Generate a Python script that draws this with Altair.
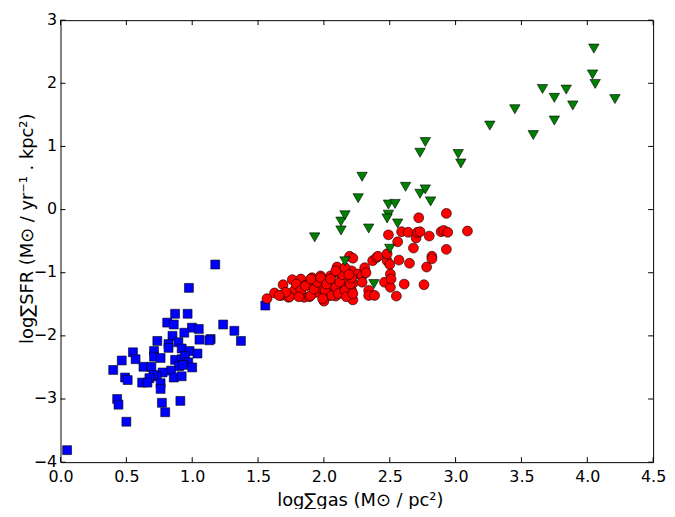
import altair as alt
import pandas as pd

blue_x = [0.05, 1.175, 0.975, 1.555, 0.87, 0.965, 0.81, 0.86, 1.235, 0.998, 1.05, 1.32, 1.37, 0.94,
          0.85, 0.735, 1.055, 1.14, 1.13, 0.82, 0.895, 0.82, 0.92, 0.71, 0.98, 1.04, 0.55, 0.57, 0.71,
          0.76, 0.465, 0.87, 0.92, 0.945, 0.97, 0.90, 0.93, 0.40, 0.63, 0.69, 1.0, 0.84, 0.775, 0.73,
          0.705, 0.49, 0.51, 0.675, 0.62, 0.66, 0.76, 0.86, 0.92, 0.76, 0.43, 0.44, 0.91, 0.77, 0.795, 0.50]
blue_y = [-3.81, -0.87, -1.24, -1.52, -1.65, -1.65, -1.79, -1.82, -1.82, -1.87, -1.89, -1.92, -2.08, -1.95,
          -2.0, -2.08, -2.06, -2.05, -2.07, -2.13, -2.10, -2.19, -2.20, -2.24, -2.24, -2.28, -2.26, -2.37, -2.33,
          -2.35, -2.39, -2.38, -2.37, -2.32, -2.42, -2.48, -2.46, -2.54, -2.49, -2.49, -2.50, -2.55, -2.58, -2.64,
          -2.62, -2.66, -2.70, -2.67, -2.74, -2.74, -2.75, -2.66, -2.64, -2.84, -3.0, -3.09, -3.03, -3.06, -3.21, -3.36]

red_x = [1.568, 1.625, 1.69, 1.675, 1.73, 1.76, 1.775, 1.81, 1.825, 1.86, 1.85, 1.89, 1.91, 1.925, 1.94,
         1.96, 1.975, 1.99, 2.01, 2.025, 2.04, 2.05, 2.05, 2.07, 2.0, 2.09, 2.10, 2.11, 2.14, 2.14, 2.15,
         2.16, 2.175, 2.195, 2.21, 2.21, 2.22, 2.22, 2.21, 2.22, 2.26, 2.29, 2.29, 2.31, 2.32, 2.34, 2.34,
         2.37, 2.40, 2.41, 2.385, 2.46, 2.48, 2.48, 2.49, 2.50, 2.505, 2.505, 2.51, 2.55, 2.56, 2.57, 2.59,
         2.61, 2.64, 2.65, 2.68, 2.70, 2.71, 2.72, 2.73, 2.76, 2.78, 2.80, 2.82, 2.82, 2.89, 2.91, 2.93,
         2.93, 2.94, 3.09,
         1.74, 1.79, 1.825, 1.86, 1.90, 1.925, 1.95, 1.975, 2.01, 2.02, 2.05, 2.06, 2.09, 2.11, 2.12,
         2.14, 2.16, 2.17, 2.20, 2.21, 2.22, 2.09, 2.16, 2.19, 1.71, 1.66, 1.90, 1.81, 1.99]
red_y = [-1.41, -1.32, -1.19, -1.36, -1.39, -1.11, -1.28, -1.20, -1.10, -1.20, -1.39, -1.38, -1.08, -1.22, -1.31,
         -1.13, -1.05, -1.26, -1.33, -1.23, -1.36, -1.05, -1.15, -1.28, -1.45, -1.37, -0.91, -1.0, -1.10, -1.22, -1.33,
         -0.95, -1.14, -0.74, -0.97, -1.37, -0.77, -1.17, -1.28, -1.43, -1.02, -1.05, -1.15, -0.92, -1.0, -1.28, -1.36,
         -0.81, -0.76, -0.74, -1.36, -1.15, -0.81, -0.70, -0.40, -0.87, -1.02, -1.23, -1.10, -1.37, -0.51, -0.80, -0.35,
         -1.18, -0.36, -0.85, -0.61, -0.45, -0.36, -0.13, -0.35, -1.19, -0.91, -0.42, -0.74, -0.78, -0.35, -0.33, -0.63,
         -0.06, -0.36, -0.34,
         -1.38, -1.18, -1.28, -1.21, -1.36, -1.26, -1.15, -1.08, -1.28, -1.18, -1.10, -1.36, -1.23, -1.33, -1.15,
         -1.03, -1.28, -1.38, -1.18, -1.08, -1.33, -0.97, -0.92, -1.03, -1.31, -1.36, -1.10, -1.38, -1.41]

green_x = [1.93, 2.13, 2.13, 2.16, 2.26, 2.29, 2.34, 2.16, 2.38, 2.49, 2.54, 2.49, 2.48, 2.56, 2.50,
           2.62, 2.73, 2.77, 2.81, 2.73, 2.77, 3.02, 3.04, 3.26, 3.45, 3.59, 3.66, 3.75, 3.75, 3.84,
           3.89, 4.05, 4.04, 4.06, 4.21]
green_y = [-0.44, -0.33, -0.19, -0.09, 0.18, 0.52, -0.30, -0.82, -1.18, 0.08, 0.09, -0.08, -0.14, -0.22, -0.62,
           0.36, 0.25, 0.32, 0.13, 0.90, 1.07, 0.88, 0.73, 1.33, 1.59, 1.18, 1.91, 1.77, 1.41, 1.90,
           1.65, 2.55, 2.14, 1.99, 1.75]

x_ticks = [0.0, 0.5, 1.0, 1.5, 2.0, 2.5, 3.0, 3.5, 4.0, 4.5]
y_ticks = [-4, -3, -2, -1, 0, 1, 2, 3]

x_title = "log∑gas  (M⊙ / pc²)"
y_title = "log∑SFR (M⊙ / yr⁻¹ . kpc²)"

blue = pd.DataFrame({"x": blue_x, "y": blue_y})
red = pd.DataFrame({"x": red_x, "y": red_y})
green = pd.DataFrame({"x": green_x, "y": green_y})
xt = pd.DataFrame({"t": x_ticks})
yt = pd.DataFrame({"t": y_ticks})

W, H = 598, 446
TL = 5  # inward tick length

xs = alt.Scale(domain=[0, 4.5], nice=False, zero=False)
ys = alt.Scale(domain=[-4, 3], nice=False, zero=False)

FONT = "DejaVu Sans"

main_x = alt.Axis(values=x_ticks, format=".1f", ticks=False, domain=False, grid=False,
                  labelFlush=False, labelOverlap=False,
                  labelFont=FONT, labelFontSize=16, labelColor="black", labelPadding=7,
                  title=x_title, titleFont=FONT, titleFontSize=18,
                  titleFontWeight="normal", titleColor="black",
                  titleBaseline="alphabetic", titleY=44, titleX=W / 2 + 3)
main_y = alt.Axis(values=y_ticks, format="d", ticks=False, domain=False, grid=False,
                  labelFlush=False, labelOverlap=False, labelOffset=-1,
                  labelFont=FONT, labelFontSize=16, labelColor="black", labelPadding=4,
                  title=y_title, titleFont=FONT, titleFontSize=18,
                  titleFontWeight="normal", titleColor="black",
                  titleBaseline="alphabetic", titleX=-28, titleY=210)

pts_blue = alt.Chart(blue).mark_point(shape="square", filled=True, size=81, fill="#0000ff",
                                      stroke="black", strokeWidth=0.6, opacity=1).encode(
    x=alt.X("x:Q", scale=xs, axis=main_x),
    y=alt.Y("y:Q", scale=ys, axis=main_y),
)
pts_red = alt.Chart(red).mark_point(shape="circle", filled=True, size=100, fill="#ff0000",
                                    stroke="black", strokeWidth=0.6, opacity=1).encode(
    x=alt.X("x:Q", scale=xs, axis=None),
    y=alt.Y("y:Q", scale=ys, axis=None),
)
pts_green = alt.Chart(green).mark_point(shape="triangle-down", filled=True, size=110, fill="#008000",
                                        stroke="black", strokeWidth=0.6, opacity=1).encode(
    x=alt.X("x:Q", scale=xs, axis=None),
    y=alt.Y("y:Q", scale=ys, axis=None),
)

tick_style = dict(color="black", strokeWidth=1)
ticks_bottom = alt.Chart(xt).mark_rule(**tick_style).encode(
    x=alt.X("t:Q", scale=xs, axis=None), y=alt.value(H), y2=alt.value(H - TL))
ticks_top = alt.Chart(xt).mark_rule(**tick_style).encode(
    x=alt.X("t:Q", scale=xs, axis=None), y=alt.value(0), y2=alt.value(TL))
ticks_left = alt.Chart(yt).mark_rule(**tick_style).encode(
    y=alt.Y("t:Q", scale=ys, axis=None), x=alt.value(0), x2=alt.value(TL))
ticks_right = alt.Chart(yt).mark_rule(**tick_style).encode(
    y=alt.Y("t:Q", scale=ys, axis=None), x=alt.value(W), x2=alt.value(W - TL))

chart = alt.layer(
    pts_blue, pts_red, pts_green, ticks_bottom, ticks_top, ticks_left, ticks_right
).resolve_axis(x="independent", y="independent").properties(
    width=W, height=H,
    autosize=alt.AutoSizeParams(type="none"),
    padding={"left": 53, "top": 10, "right": 14, "bottom": 45},
    background="white",
).configure_view(stroke="black", strokeWidth=1)

chart.save("out.html", embed_options={"renderer": "svg", "actions": False})
